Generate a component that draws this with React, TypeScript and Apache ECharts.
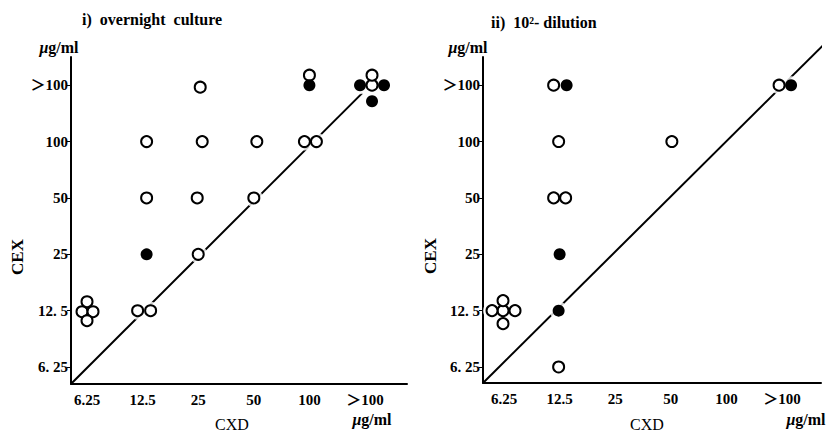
import React, { useEffect, useRef } from "react";
import * as echarts from "echarts";

// Concentration classes (µg/ml), shared by both axes
const concentrations = ["6.25", "12.5", "25", "50", "100", ">100"];
const xTickLabels = ["6.25", "12.5", "25", "50", "100", "＞100"];
const yTickLabels = ["6. 25", "12. 5", "25", "50", "100", "＞100"];

// Points: [CXD, CEX]
const overnightOpen: [string, string][] = [
  ["6.25", "12.5"], ["6.25", "12.5"], ["6.25", "12.5"], ["6.25", "12.5"],
  ["12.5", "12.5"], ["12.5", "12.5"],
  ["25", "25"],
  ["12.5", "50"], ["25", "50"], ["50", "50"],
  ["12.5", "100"], ["25", "100"], ["50", "100"], ["100", "100"], ["100", "100"],
  ["25", ">100"], ["100", ">100"], [">100", ">100"], [">100", ">100"],
];
const overnightFilled: [string, string][] = [
  ["12.5", "25"], ["100", ">100"], [">100", ">100"], [">100", ">100"], [">100", ">100"],
];
const dilutionOpen: [string, string][] = [
  ["6.25", "12.5"], ["6.25", "12.5"], ["6.25", "12.5"], ["6.25", "12.5"], ["6.25", "12.5"],
  ["12.5", "6.25"], ["12.5", "50"], ["12.5", "50"], ["12.5", "100"], ["12.5", ">100"],
  ["50", "100"], [">100", ">100"],
];
const dilutionFilled: [string, string][] = [
  ["12.5", "12.5"], ["12.5", "25"], ["12.5", ">100"], [">100", ">100"],
];

// Line of equality (in class-index units)
const overnightDiagonal = [[-0.29, -0.3], [4.95, 4.86]];
const dilutionDiagonal = [[-0.378, -0.284], [5.77, 5.74]];

// Pixel offsets that separate coincident points (layout only)
const overnightOpenOffsets = [
  [-5, 1], [0, -9], [6, 1], [0, 10],
  [-5, 0], [8, 0],
  [0, 0],
  [4, 0], [-1, 0], [0, 0],
  [4, 0], [4, 0], [3, 0], [-5, 0], [7, 0],
  [2, 2], [0, -10], [7, 0], [7, -10],
];
const overnightFilledOffsets = [[4, 0], [0, 0], [-5, 0], [19, 0], [7, 16]];
const dilutionOpenOffsets = [
  [-1, 0], [-12, 0], [11, 0], [-1, -10], [-1, 13],
  [-1, 0], [-6, 0], [6, 0], [-1, 0], [-6, 0],
  [1, 0], [-3, 0],
];
const dilutionFilledOffsets = [[-1, 0], [0, 0], [7, 0], [9, 0]];

const idx = (c: string) => concentrations.indexOf(c);
const build = (pts: [string, string][], offs: number[][]) =>
  pts.map((p, i) => ({ value: [idx(p[0]), idx(p[1])], symbolOffset: offs[i] }));

const FONT = "Liberation Serif, Noto Sans CJK JP, serif";

export default function App() {
  const ref = useRef<HTMLDivElement>(null);
  useEffect(() => {
    if (!ref.current) return;
    const chart = echarts.init(ref.current, undefined, { renderer: "svg" });

    const xAxis = (gridIndex: number, min: number, max: number) => ({
      type: "value",
      gridIndex,
      min,
      max,
      splitLine: { show: false },
      axisLine: { show: true, onZero: false, lineStyle: { color: "#000", width: 2 } },
      axisTick: { show: false, customValues: [0, 1, 2, 3, 4, 5] },
      axisLabel: {
        customValues: [0, 1, 2, 3, 4, 5],
        formatter: (v: number) => xTickLabels[Math.round(v)],
        color: "#000",
        fontFamily: FONT,
        fontWeight: "bold",
        fontSize: 15,
        margin: 8,
      },
    });
    const yAxis = (gridIndex: number, min: number, max: number) => ({
      type: "value",
      gridIndex,
      min,
      max,
      splitLine: { show: false },
      axisLine: { show: true, onZero: false, lineStyle: { color: "#000", width: 2 } },
      axisTick: {
        show: true,
        length: 4,
        customValues: [0, 1, 2, 3, 4, 5],
        lineStyle: { color: "#000", width: 1 },
      },
      axisLabel: {
        customValues: [0, 1, 2, 3, 4, 5],
        formatter: (v: number) => yTickLabels[Math.round(v)],
        color: "#000",
        fontFamily: FONT,
        fontWeight: "bold",
        fontSize: 15,
        margin: 3,
      },
    });

    const panelSeries = (
      i: number,
      diag: number[][],
      open: any[],
      filled: any[]
    ) => [
      {
        type: "line",
        xAxisIndex: i,
        yAxisIndex: i,
        data: diag,
        symbol: "none",
        clip: false,
        lineStyle: { color: "#000", width: 2 },
        z: 1,
        silent: true,
      },
      {
        type: "scatter",
        xAxisIndex: i,
        yAxisIndex: i,
        data: [...open, ...filled],
        symbolSize: 18,
        itemStyle: { color: "#fff" },
        z: 2,
        silent: true,
      },
      {
        type: "scatter",
        xAxisIndex: i,
        yAxisIndex: i,
        data: open,
        symbolSize: 11,
        itemStyle: { color: "#fff", borderColor: "#000", borderWidth: 2, opacity: 1 },
        z: 3,
      },
      {
        type: "scatter",
        xAxisIndex: i,
        yAxisIndex: i,
        data: filled,
        symbolSize: 12,
        itemStyle: { color: "#000", opacity: 1 },
        z: 4,
      },
    ];

    const txt = (
      text: string,
      x: number,
      y: number,
      opts: any = {}
    ) => ({
      type: "text",
      x,
      y,
      rotation: opts.rotation || 0,
      style: {
        text,
        fill: "#000",
        font: opts.font || `bold 15px ${FONT}`,
        align: opts.align || "center",
        verticalAlign: "middle",
        rich: opts.rich,
      },
    });
    const unitRich = {
      i: { fontFamily: FONT, fontStyle: "italic", fontWeight: "bold", fontSize: 16 },
      b: { fontFamily: FONT, fontWeight: "bold", fontSize: 16 },
    };
    const unit = "{i|μ}{b|g/ml}";

    chart.setOption({
      animation: false,
      backgroundColor: "#fff",
      grid: [
        { left: 71, top: 57, width: 336, height: 327 },
        { left: 483, top: 57, width: 338, height: 326 },
      ],
      xAxis: [xAxis(0, -0.288, 5.755), xAxis(1, -0.378, 5.7)],
      yAxis: [yAxis(0, -0.3, 5.5), yAxis(1, -0.284, 5.5)],
      series: [
        ...panelSeries(0, overnightDiagonal, build(overnightOpen, overnightOpenOffsets), build(overnightFilled, overnightFilledOffsets)),
        ...panelSeries(1, dilutionDiagonal, build(dilutionOpen, dilutionOpenOffsets), build(dilutionFilled, dilutionFilledOffsets)),
      ],
      graphic: [
        txt("i)  overnight  culture", 82, 19, { align: "left", font: `bold 16px ${FONT}` }),
        txt("ii)  10²- dilution", 491, 22, { align: "left", font: `bold 16px ${FONT}` }),
        txt(unit, 59, 47, { rich: unitRich }),
        txt(unit, 468, 47, { rich: unitRich }),
        txt(unit, 372, 419, { rich: unitRich }),
        txt(unit, 806, 419, { rich: unitRich }),
        txt("CXD", 232, 424, { font: `16px ${FONT}` }),
        txt("CXD", 647, 424, { font: `16px ${FONT}` }),
        txt("CEX", 17, 257, { font: `bold 17px ${FONT}`, rotation: Math.PI / 2 }),
        txt("CEX", 430, 256, { font: `bold 17px ${FONT}`, rotation: Math.PI / 2 }),
      ],
    });
    return () => chart.dispose();
  }, []);
  return (
    <div
      ref={ref}
      style={{ position: "absolute", left: 0, top: 0, width: 830, height: 434 }}
    />
  );
}
